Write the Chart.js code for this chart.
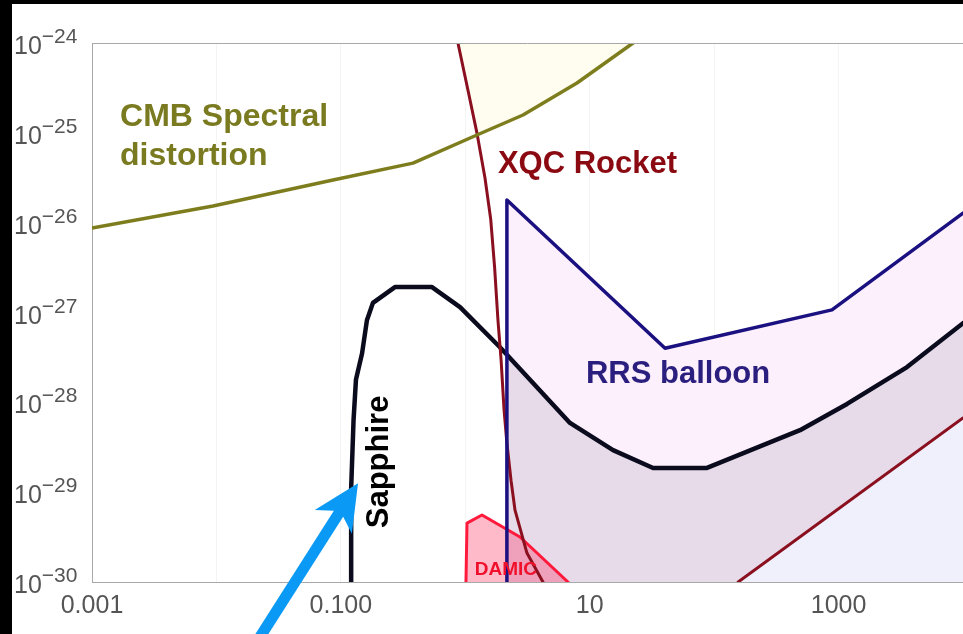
<!DOCTYPE html>
<html>
<head>
<meta charset="utf-8">
<script src="https://cdn.jsdelivr.net/npm/chart.js@4.4.1/dist/chart.umd.min.js"></script>
<style>
  html, body { margin: 0; padding: 0; background: #000; width: 963px; height: 634px; overflow: hidden; }
  #wrap { position: absolute; left: 12px; top: 4px; width: 951px; height: 630px; background: #fff; }
</style>
</head>
<body>
<div id="wrap"><canvas id="c" width="951" height="630"></canvas></div>
<script>
// axes
const xTicks = [0.001, 0.01, 0.1, 1, 10, 100, 1000, 10000];
const xLabelled = [0.001, 0.1, 10, 1000];
const xLabelText = ["0.001", "0.100", "10", "1000"];
const yExponents = [-30, -29, -28, -27, -26, -25, -24];

// curves
const cmbX = [0.001, 0.0094, 0.0865, 0.38, 1.24, 2.91, 7.9, 22.3];
const cmbY = [8.7e-27, 1.53e-26, 2.99e-26, 4.6e-26, 9.46e-26, 1.58e-25, 3.59e-25, 1e-24];

const xqcLeftX = [0.873, 1.05, 1.24, 1.44, 1.6, 1.72, 1.83, 1.94, 2.05, 2.16, 2.33, 2.51, 3.13, 4.21];
const xqcLeftY = [1e-24, 3.0e-25, 1.0e-25, 3.14e-26, 1.1e-26, 3.2e-27, 8.25e-28, 2.96e-28, 8.2e-29, 3.52e-29, 1.36e-29, 6.3e-30, 2.1e-30, 1e-30];
const xqcRightX = [156, 10000];
const xqcRightY = [1e-30, 6.7e-29];

const rrsX = [2.16, 2.16, 40.3, 885, 10000];
const rrsY = [1e-30, 1.79e-26, 4.0e-28, 1.07e-27, 1.28e-26];

const sapphireX = [0.121, 0.121, 0.1265, 0.1323, 0.148, 0.162, 0.181, 0.272, 0.54, 0.907, 1.9, 6.94, 15.4, 32.3, 87.6, 490, 1170, 3550, 10000];
const sapphireY = [1e-30, 1.1e-29, 6.4e-29, 1.8e-28, 3.5e-28, 8.2e-28, 1.28e-27, 1.92e-27, 1.92e-27, 1.15e-27, 4.1e-28, 5.9e-29, 2.94e-29, 1.86e-29, 1.86e-29, 4.9e-29, 9.6e-29, 2.47e-28, 7.6e-28];
// where the shaded sapphire band starts at the RRS edge
const sapphireBandStart = [2.16, 3.4e-28];

const damicX = [1.013, 1.032, 1.362, 2.753, 6.69];
const damicY = [1e-30, 4.53e-30, 5.57e-30, 3.17e-30, 1e-30];

// text labels and arrow (data coords)
const notes = [
  { text: "CMB Spectral", x: 0.00168, y: 1.19e-25, color: "#7a7a20", size: 32, align: "left" },
  { text: "distortion", x: 0.00168, y: 4.38e-26, color: "#7a7a20", size: 32, align: "left" },
  { text: "XQC Rocket", x: 1.83, y: 3.57e-26, color: "#8b0a12", size: 31, align: "left" },
  { text: "RRS balloon", x: 9.33, y: 1.64e-28, color: "#2a1e7e", size: 31, align: "left" },
  { text: "Sapphire", x: 0.239, y: 2.17e-29, color: "#000", size: 31, align: "center", rot: -Math.PI / 2 },
  { text: "DAMIC", x: 2.12, y: 1.2e-30, color: "#f0102c", size: 19, align: "center" }
];
const arrowTail = [0.0216, 2.26e-31];
const arrowTip = [0.1374, 1.26e-29];

const FONT = "'Liberation Sans', Arial, Helvetica, sans-serif";
const pts = (xs, ys) => xs.map((x, i) => ({ x: x, y: ys[i] }));

function fillSet(data, color, fill, order) {
  return { data: data, fill: fill, backgroundColor: color, borderWidth: 0, pointRadius: 0, order: order };
}
function lineSet(data, color, width, order) {
  return { data: data, fill: false, borderColor: color, borderWidth: width, pointRadius: 0, order: order,
           borderJoinStyle: "round", borderCapStyle: "round" };
}

const yellowData = pts(xqcLeftX.slice(0, 3).concat(cmbX.slice(5)), xqcLeftY.slice(0, 3).concat(cmbY.slice(5)));
const bandData = pts([sapphireBandStart[0]].concat(sapphireX.slice(11)), [sapphireBandStart[1]].concat(sapphireY.slice(11)));

const notesPlugin = {
  id: "notes",
  afterDatasetsDraw(chart) {
    const { ctx, scales: { x, y } } = chart;
    ctx.save();
    notes.forEach(n => {
      ctx.save();
      ctx.translate(x.getPixelForValue(n.x), y.getPixelForValue(n.y));
      if (n.rot) ctx.rotate(n.rot);
      ctx.font = "bold " + n.size + "px " + FONT;
      ctx.fillStyle = n.color;
      ctx.textAlign = n.align;
      ctx.textBaseline = "alphabetic";
      ctx.fillText(n.text, 0, 0);
      ctx.restore();
    });
    // arrow
    const tx = x.getPixelForValue(arrowTail[0]), ty = y.getPixelForValue(arrowTail[1]);
    const hx = x.getPixelForValue(arrowTip[0]), hy = y.getPixelForValue(arrowTip[1]);
    const len = Math.hypot(hx - tx, hy - ty), ux = (hx - tx) / len, uy = (hy - ty) / len;
    const px = -uy, py = ux, headL = 46, headW = 22;
    ctx.strokeStyle = "#0a9af5";
    ctx.fillStyle = "#0a9af5";
    ctx.lineWidth = 11;
    ctx.beginPath();
    ctx.moveTo(tx, ty);
    ctx.lineTo(hx - ux * headL * 0.7, hy - uy * headL * 0.7);
    ctx.stroke();
    ctx.beginPath();
    ctx.moveTo(hx, hy);
    ctx.lineTo(hx - ux * headL + px * headW, hy - uy * headL + py * headW);
    ctx.lineTo(hx - ux * headL * 0.72, hy - uy * headL * 0.72);
    ctx.lineTo(hx - ux * headL - px * headW, hy - uy * headL - py * headW);
    ctx.closePath();
    ctx.fill();
    ctx.restore();
  },
  afterDraw(chart) {
    const { ctx, chartArea, scales: { y } } = chart;
    ctx.save();
    // top frame line
    ctx.strokeStyle = "#a8a8a8";
    ctx.lineWidth = 1;
    ctx.beginPath();
    ctx.moveTo(chartArea.left, chartArea.top + 0.5);
    ctx.lineTo(chartArea.right, chartArea.top + 0.5);
    ctx.stroke();
    // y tick labels 10^n
    ctx.fillStyle = "#555";
    ctx.textBaseline = "alphabetic";
    ctx.textAlign = "left";
    yExponents.forEach(e => {
      const py = y.getPixelForValue(Math.pow(10, e));
      ctx.font = "25px " + FONT;
      ctx.fillText("10", 2, py + 11);
      const w = ctx.measureText("10").width;
      ctx.font = "21px " + FONT;
      ctx.fillText("\u2212" + Math.abs(e), 2 + w, py);
    });
    ctx.restore();
  }
};

new Chart(document.getElementById("c"), {
  type: "line",
  data: {
    datasets: [
      fillSet(yellowData, "#fffdf0", "end", 20),
      fillSet(pts(rrsX, rrsY), "#fdf0fd", "start", 19),
      fillSet(bandData, "#e7dbe9", "start", 18),
      fillSet(pts(xqcRightX, xqcRightY), "#eff0fb", "start", 17),
      Object.assign(lineSet(pts(damicX, damicY), "#ff1a3c", 3, 16), { fill: "start", backgroundColor: "rgba(255,40,90,0.32)" }),
      lineSet(pts(sapphireX, sapphireY), "#0b0b1e", 4.5, 15),
      lineSet(pts(xqcLeftX, xqcLeftY), "#8a0f1f", 3, 14),
      lineSet(pts(xqcRightX, xqcRightY), "#8a0f1f", 3, 13),
      lineSet(pts(rrsX, rrsY), "#1a1080", 3.5, 12),
      lineSet(pts(cmbX, cmbY), "#7d7d1e", 3.5, 11)
    ]
  },
  options: {
    responsive: false,
    animation: false,
    layout: { padding: { top: 39, left: 0, right: 0, bottom: 0 } },
    plugins: { legend: { display: false }, tooltip: { enabled: false } },
    elements: { line: { tension: 0 } },
    scales: {
      x: {
        type: "logarithmic",
        min: 0.001, max: 10000,
        z: 1,
        afterBuildTicks: s => { s.ticks = xTicks.map(v => ({ value: v })); },
        afterFit: s => { s.height = 52; s.paddingRight = 0; s.paddingLeft = 0; },
        grid: { color: "rgba(0,0,0,0.045)", drawTicks: false },
        border: { color: "#a8a8a8", width: 1 },
        ticks: {
          autoSkip: false, maxRotation: 0, padding: 9, color: "#555",
          font: { family: FONT, size: 25 },
          callback: v => {
            const i = xLabelled.findIndex(l => Math.abs(Math.log10(l) - Math.log10(v)) < 1e-6);
            return i >= 0 ? xLabelText[i] : "";
          }
        }
      },
      y: {
        type: "logarithmic",
        min: 1e-30, max: 1e-24,
        afterFit: s => { s.width = 80; },
        grid: { display: false },
        border: { color: "#a8a8a8", width: 1 },
        ticks: { display: false }
      }
    }
  },
  plugins: [notesPlugin]
});
</script>
</body>
</html>
